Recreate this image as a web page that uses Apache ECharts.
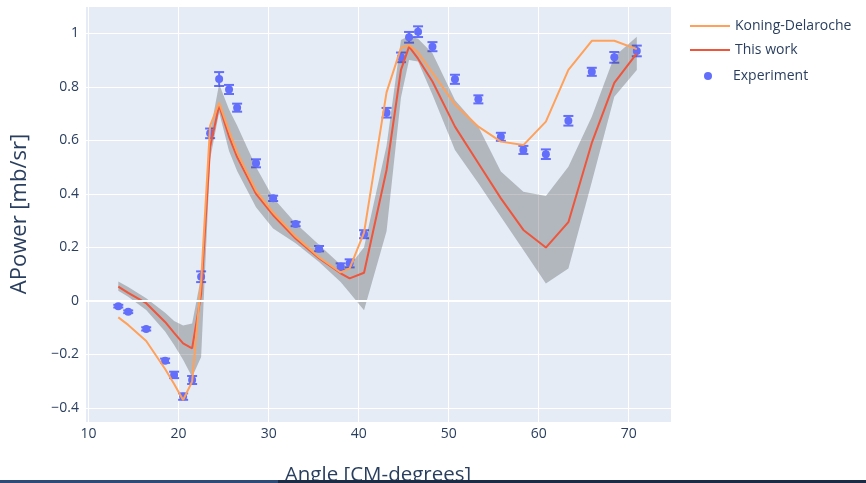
<!DOCTYPE html>
<html>
<head>
<meta charset="utf-8">
<script src="https://cdn.jsdelivr.net/npm/echarts@6/dist/echarts.min.js"></script>
<style>
  html, body { margin: 0; padding: 0; background: #ffffff; }
  #chart { width: 866px; height: 483px; }
</style>
</head>
<body>
<div id="chart"></div>
<script>
// Scattering angles (CM degrees) shared by the measurement and both calculations
const angles = [13.3, 14.4, 16.4, 18.5, 19.5, 20.5, 21.5, 22.5, 23.5, 24.5, 25.6, 26.5, 28.6,
  30.5, 33.0, 35.6, 38.0, 39.0, 40.6, 43.1, 44.7, 45.6, 46.6, 48.2, 50.7, 53.3, 55.8, 58.3,
  60.8, 63.3, 65.9, 68.4, 70.9];

// Measured analyzing power and its uncertainty
const experiment = [-0.020, -0.041, -0.105, -0.224, -0.277, -0.358, -0.296, 0.090, 0.626, 0.829,
  0.790, 0.722, 0.514, 0.383, 0.287, 0.195, 0.128, 0.140, 0.249, 0.703, 0.910, 0.985, 1.006,
  0.950, 0.828, 0.753, 0.613, 0.564, 0.548, 0.673, 0.856, 0.910, 0.934];
const expError = [0.005, 0.005, 0.006, 0.008, 0.012, 0.012, 0.015, 0.020, 0.018, 0.026, 0.017,
  0.015, 0.015, 0.010, 0.008, 0.010, 0.012, 0.015, 0.015, 0.018, 0.018, 0.020, 0.020, 0.017,
  0.017, 0.015, 0.015, 0.015, 0.018, 0.018, 0.015, 0.020, 0.020];

// Koning-Delaroche global optical potential
const koning = [-0.062, -0.090, -0.150, -0.255, -0.311, -0.371, -0.302, 0.075, 0.655, 0.740,
  0.635, 0.555, 0.412, 0.330, 0.240, 0.163, 0.106, 0.121, 0.255, 0.779, 0.945, 0.956, 0.928,
  0.852, 0.734, 0.651, 0.595, 0.582, 0.670, 0.863, 0.972, 0.972, 0.941];

// Present calculation (central value)
const thisWork = [0.053, 0.030, -0.009, -0.079, -0.120, -0.159, -0.178, 0.025, 0.576, 0.730,
  0.614, 0.537, 0.400, 0.320, 0.233, 0.159, 0.103, 0.084, 0.105, 0.489, 0.863, 0.950, 0.905,
  0.820, 0.651, 0.514, 0.383, 0.265, 0.199, 0.294, 0.590, 0.815, 0.925];

// Uncertainty band of the present calculation
const bandLow = [0.038, 0.015, -0.034, -0.115, -0.165, -0.220, -0.285, -0.210, 0.530, 0.705,
  0.560, 0.485, 0.350, 0.270, 0.215, 0.145, 0.070, 0.030, -0.035, 0.260, 0.760, 0.900, 0.895,
  0.770, 0.564, 0.439, 0.314, 0.190, 0.065, 0.121, 0.444, 0.763, 0.863];
const bandHigh = [0.072, 0.052, 0.010, -0.045, -0.075, -0.092, -0.085, 0.090, 0.630, 0.810,
  0.715, 0.655, 0.500, 0.385, 0.290, 0.210, 0.135, 0.130, 0.200, 0.580, 0.975, 0.990, 0.980,
  0.925, 0.751, 0.651, 0.483, 0.408, 0.392, 0.501, 0.688, 0.913, 0.987];

const FONT = '"Open Sans", "Noto Sans", sans-serif';
const INK = '#2a3f5f';
const BLUE = '#636EFA';

const fmtTick = v => {
  const r = +(+v).toFixed(2);
  return r < 0 ? '\u2212' + Math.abs(r) : String(r);
};

const chart = echarts.init(document.getElementById('chart'), null, { renderer: 'canvas' });

chart.setOption({
  animation: false,
  backgroundColor: '#ffffff',
  grid: {
    left: 85, top: 6, width: 586, height: 416,
    outerBoundsMode: 'none',
    containLabel: false,
    show: true, backgroundColor: '#E5ECF6', borderWidth: 0
  },
  xAxis: {
    type: 'value',
    min: 9.6, max: 74.7,
    splitNumber: 5,
    name: 'Angle [CM-degrees]',
    nameLocation: 'middle',
    nameGap: 43,
    nameTextStyle: { fontFamily: FONT, fontSize: 20.5, color: INK },
    axisLine: { show: false },
    axisTick: { show: false },
    axisLabel: {
      fontFamily: FONT, fontSize: 14, color: INK, margin: 5,
      showMinLabel: false, showMaxLabel: false
    },
    splitLine: { show: true, lineStyle: { color: '#ffffff', width: 1 } }
  },
  yAxis: {
    type: 'value',
    min: -0.453, max: 1.102,
    splitNumber: 7,
    name: 'APower [mb/sr]',
    nameLocation: 'middle',
    nameGap: 54,
    nameTextStyle: { fontFamily: FONT, fontSize: 22, color: INK },
    axisLine: { show: false },
    axisTick: { show: false },
    axisLabel: {
      fontFamily: FONT, fontSize: 14, color: INK, margin: 6,
      showMinLabel: false, showMaxLabel: false,
      formatter: fmtTick
    },
    splitLine: { show: true, lineStyle: { color: '#ffffff', width: 1 } }
  },
  legend: [
    {
      data: ['Koning-Delaroche', 'This work'],
      orient: 'vertical',
      left: 689, top: 19, padding: 0,
      itemWidth: 40, itemHeight: 14, itemGap: 10,
      itemStyle: { opacity: 0 },
      textStyle: { fontFamily: FONT, fontSize: 14, color: INK }
    },
    {
      data: [{ name: 'Experiment', icon: 'circle' }],
      orient: 'vertical',
      left: 704, top: 69, padding: 0,
      itemWidth: 40, itemHeight: 8,
      textStyle: { fontFamily: FONT, fontSize: 14, color: INK }
    }
  ],
  series: [
    {
      name: 'This work',
      type: 'line',
      data: angles.map((a, i) => [a, thisWork[i]]),
      symbol: 'none',
      lineStyle: { color: '#EF553B', width: 2 },
      itemStyle: { color: '#EF553B' },
      markLine: {
        silent: true,
        symbol: ['none', 'none'],
        label: { show: false },
        lineStyle: { color: '#ffffff', width: 2, type: 'solid' },
        data: [{ yAxis: 0 }]
      }
    },
    {
      name: 'Experiment error',
      type: 'custom',
      data: angles.map((a, i) => [a, experiment[i] - expError[i], experiment[i] + expError[i]]),
      encode: { x: 0, y: [1, 2] },
      silent: true,
      renderItem: (params, api) => {
        const lo = api.coord([api.value(0), api.value(1)]);
        const hi = api.coord([api.value(0), api.value(2)]);
        const cap = 5;
        const style = { stroke: BLUE, lineWidth: 2, fill: null };
        return {
          type: 'group',
          children: [
            { type: 'line', shape: { x1: lo[0], y1: lo[1], x2: hi[0], y2: hi[1] }, style },
            { type: 'line', shape: { x1: lo[0] - cap, y1: lo[1], x2: lo[0] + cap, y2: lo[1] }, style },
            { type: 'line', shape: { x1: hi[0] - cap, y1: hi[1], x2: hi[0] + cap, y2: hi[1] }, style }
          ]
        };
      }
    },
    {
      name: 'Experiment',
      type: 'scatter',
      data: angles.map((a, i) => [a, experiment[i]]),
      symbol: 'circle',
      symbolSize: 8,
      itemStyle: { color: BLUE, opacity: 1 }
    },
    {
      name: 'Uncertainty band',
      type: 'custom',
      data: [[angles[0], bandLow[0]]],
      encode: { x: 0, y: 1 },
      silent: true,
      renderItem: (params, api) => {
        const pts = [];
        for (let i = 0; i < angles.length; i++) pts.push(api.coord([angles[i], bandHigh[i]]));
        for (let i = angles.length - 1; i >= 0; i--) pts.push(api.coord([angles[i], bandLow[i]]));
        return {
          type: 'polygon',
          shape: { points: pts },
          style: { fill: 'rgba(60,60,60,0.3)', stroke: null }
        };
      }
    },
    {
      name: 'Koning-Delaroche',
      type: 'line',
      data: angles.map((a, i) => [a, koning[i]]),
      symbol: 'none',
      lineStyle: { color: '#FFA15A', width: 2 },
      itemStyle: { color: '#FFA15A' }
    }
  ],
  graphic: [
    { type: 'rect', left: 0, top: 480, shape: { width: 278, height: 3 }, style: { fill: '#2d4b76' }, z: 100 },
    { type: 'rect', left: 278, top: 480, shape: { width: 588, height: 3 }, style: { fill: '#1c2b45' }, z: 100 }
  ]
});
</script>
</body>
</html>
